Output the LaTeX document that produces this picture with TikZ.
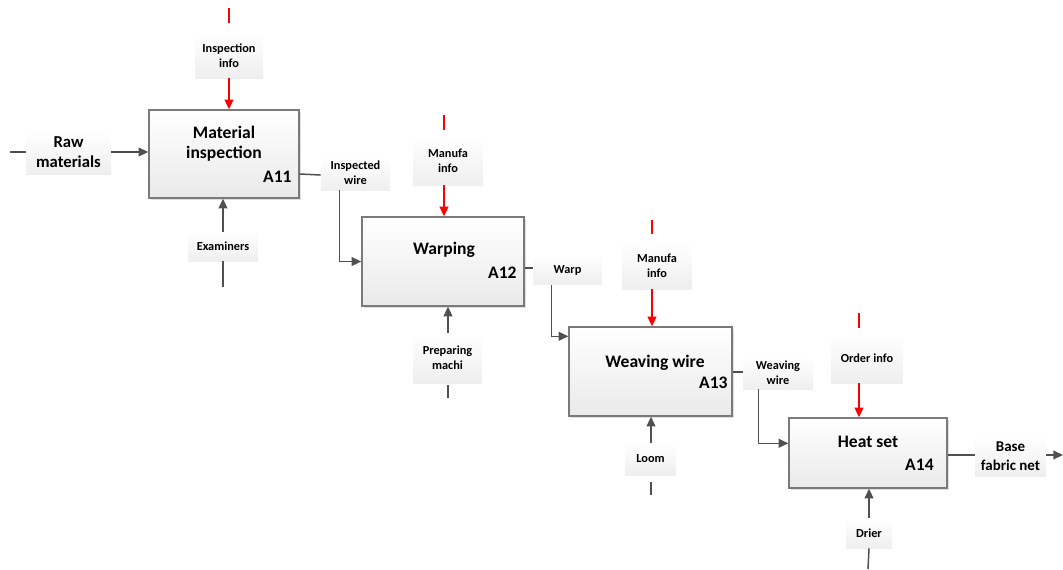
\documentclass[tikz,border=0pt]{standalone}
\usepackage{fontspec}
\setmainfont{Carlito}
\usetikzlibrary{arrows.meta,shadows}

\definecolor{linegray}{HTML}{505050}
\definecolor{boxgray}{HTML}{7A7A7A}
\tikzset{
  act/.style={draw=boxgray, line width=0.8pt, top color=white, bottom color=gray!17,
    drop shadow={shadow xshift=1.2pt, shadow yshift=-1.2pt, opacity=0.25, fill=gray}},
  lbl/.style={top color=white, bottom color=gray!13, inner sep=0pt, align=center,
    font=\bfseries\fontsize{7}{8.5}\selectfont},
  ttl/.style={align=center, inner sep=0pt, font=\bfseries\fontsize{10}{11.5}\selectfont},
  num/.style={anchor=east, inner sep=0pt, font=\bfseries\fontsize{10}{12}\selectfont},
  flow/.style={draw=linegray, line width=0.85pt, -{Triangle[length=5.5pt,width=5pt]}},
  stub/.style={draw=linegray, line width=0.85pt},
  ctrl/.style={draw=red, line width=0.85pt, -{Triangle[length=5.5pt,width=5pt]}},
  ctrlstub/.style={draw=red, line width=0.85pt}
}

\begin{document}
\begin{tikzpicture}[x=0.02cm, y=-0.02cm]
\useasboundingbox (0,0) rectangle (1063,569);

% activity boxes
\node[act, minimum width=3cm, minimum height=1.76cm] (A11) at (224,154) {};
\node[act, minimum width=3.24cm, minimum height=1.78cm] (A12) at (443,261.5) {};
\node[act, minimum width=3.26cm, minimum height=1.78cm] (A13) at (650.5,371.5) {};
\node[act, minimum width=3.16cm, minimum height=1.4cm] (A14) at (868,453) {};

\node[ttl] (t11) at (224,144) {Material\\inspection};
\node[num] (n11) at (292,177) {A11};
\node[ttl] (t12) at (444,250) {Warping};
\node[num] (n12) at (517,273) {A12};
\node[ttl] (t13) at (655,363) {Weaving wire};
\node[num] (n13) at (728,383) {A13};
\node[ttl] (t14) at (868,442) {Heat set};
\node[num] (n14) at (934,465) {A14};

% arrow labels
\node[lbl, minimum width=1.36cm, minimum height=0.9cm] (inspinfo) at (229,55.5) {Inspection\\info};
\node[lbl, minimum width=1.7cm, minimum height=0.86cm, font=\bfseries\fontsize{9.5}{11.5}\selectfont] (raw) at (68.5,152.5) {Raw\\materials};
\node[lbl, minimum width=1.4cm, minimum height=0.58cm] (exam) at (223,246.5) {Examiners};
\node[lbl, minimum width=1.38cm, minimum height=0.68cm] (inspwire) at (355.5,173) {Inspected\\wire};
\node[lbl, minimum width=1.4cm, minimum height=0.96cm] (manu1) at (448,161) {Manufa\\info};
\node[lbl, minimum width=1.38cm, minimum height=1cm] (prep) at (447.5,358) {Preparing\\machi};
\node[lbl, minimum width=1.38cm, minimum height=0.58cm] (warp) at (567.5,270) {Warp};
\node[lbl, minimum width=1.4cm, minimum height=0.94cm] (manu2) at (657,265.5) {Manufa\\info};
\node[lbl, minimum width=1.4cm, minimum height=0.64cm] (wwire) at (778,373) {Weaving\\wire};
\node[lbl, minimum width=1.02cm, minimum height=0.64cm] (loom) at (650.5,459) {Loom};
\node[lbl, minimum width=1.44cm, minimum height=1cm] (order) at (867,358) {Order info};
\node[lbl, minimum width=1.42cm, minimum height=0.82cm, font=\bfseries\fontsize{8.5}{10.5}\selectfont] (base) at (1010.5,456) {Base\\fabric net};
\node[lbl, minimum width=0.92cm, minimum height=0.6cm] (drier) at (869,533) {Drier};

% free ends
\coordinate (c11) at (229,8);
\coordinate (c12) at (444,115);
\coordinate (c13) at (652,220);
\coordinate (c14) at (859,313);
\coordinate (rawin) at (10,152);
\coordinate (m11) at (223,287);
\coordinate (m12) at (448,398);
\coordinate (m13) at (651,495);
\coordinate (m14) at (868,569);
\coordinate (out) at (1063,455);

% controls
\draw[ctrlstub] (c11) -- (c11 |- 0,23);
\draw[ctrl] (inspinfo.south) -- (inspinfo.south |- A11.north);
\draw[ctrlstub] (c12) -- (c12 |- 0,130);
\draw[ctrl] (c12 |- manu1.south) -- (c12 |- A12.north);
\draw[ctrlstub] (c13) -- (c13 |- 0,234);
\draw[ctrl] (c13 |- manu2.south) -- (c13 |- A13.north);
\draw[ctrlstub] (c14) -- (c14 |- 0,328);
\draw[ctrl] (c14 |- order.south) -- (c14 |- A14.north);

% mechanisms
\draw[stub] (m11) -- (exam.south);
\draw[flow] (exam.north) -- (exam.north |- A11.south);
\draw[stub] (m12) -- (m12 |- 0,385);
\draw[flow] (m12 |- prep.north) -- (m12 |- A12.south);
\draw[stub] (m13) -- (m13 |- 0,482);
\draw[flow] (m13 |- loom.north) -- (m13 |- A13.south);
\draw[stub] (m14) -- (drier.south);
\draw[flow] (drier.north) -- (drier.north |- A14.south);

% inputs and outputs
\draw[stub] (rawin) -- (raw.west |- rawin);
\draw[flow] (raw.east |- rawin) -- (A11.west |- rawin);
\draw[stub] (A11.east |- 0,174) -- (inspwire.west |- 0,175);
\draw[flow] ([xshift=0.38cm]inspwire.south west) |- (A12.west);
\draw[stub] (A12.east |- 0,268) -- (warp.west |- 0,268);
\draw[flow] ([xshift=0.38cm]warp.south west) |- ([yshift=-0.2cm]A13.north west);
\draw[stub] (A13.east |- 0,372) -- (wwire.west |- 0,372);
\draw[flow] ([xshift=0.32cm]wwire.south west) |- ([yshift=-0.52cm]A14.north west);
\draw[stub] (A14.east |- 0,455) -- (base.west |- 0,455);
\draw[flow] (base.east |- out) -- (out);
\end{tikzpicture}
\end{document}
